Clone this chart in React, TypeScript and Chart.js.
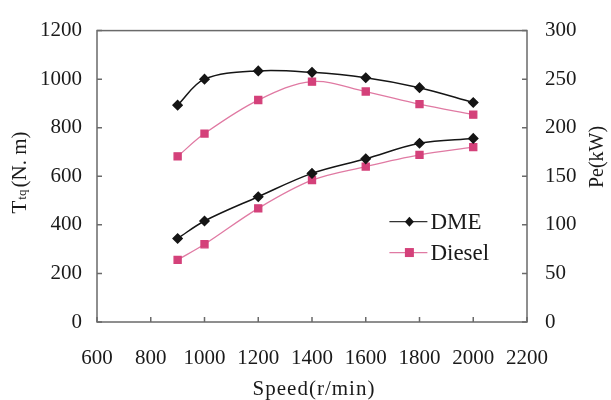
import React, { useEffect, useRef } from "react";
import { Chart, registerables } from "chart.js";

Chart.register(...registerables);

const speeds = [900, 1000, 1200, 1400, 1600, 1800, 2000];
const dmeTorque = [893, 1000, 1034, 1028, 1006, 965, 904];
const dieselTorque = [682, 776, 914, 990, 949, 897, 854];
const dmePower = [86, 104, 129, 153, 168, 184, 189];
const dieselPower = [64, 80, 117, 146, 160, 172, 180];

const xTicks = [600, 800, 1000, 1200, 1400, 1600, 1800, 2000, 2200];
const torqueTicks = [0, 200, 400, 600, 800, 1000, 1200];
const powerTicks = [0, 50, 100, 150, 200, 250, 300];

const legendLabels = ["DME", "Diesel"];
const DME_COLOR = "#151515";
const DIESEL_COLOR = "#d4417a";
const DIESEL_LINE = "#e07aa3";
const FONT = "'Liberation Serif', 'DejaVu Serif', serif";
const AXIS_COLOR = "#6a6a6a";
const TEXT_COLOR = "#1a1a1a";

const toPts = (ys: number[]) => speeds.map((x, i) => ({ x, y: ys[i] }));

const framePlugin = {
  id: "frame",
  afterDraw(chart: any) {
    const { ctx, chartArea: a, scales } = chart;
    ctx.save();
    ctx.strokeStyle = AXIS_COLOR;
    ctx.lineWidth = 1.5;
    ctx.strokeRect(a.left, a.top, a.right - a.left, a.bottom - a.top);
    ctx.beginPath();
    xTicks.forEach((v) => {
      const px = scales.x.getPixelForValue(v);
      ctx.moveTo(px, a.bottom);
      ctx.lineTo(px, a.bottom - 5);
    });
    torqueTicks.forEach((v) => {
      const py = scales.y.getPixelForValue(v);
      ctx.moveTo(a.left, py);
      ctx.lineTo(a.left + 5, py);
    });
    powerTicks.forEach((v) => {
      const py = scales.y1.getPixelForValue(v);
      ctx.moveTo(a.right, py);
      ctx.lineTo(a.right - 5, py);
    });
    ctx.stroke();

    // axis titles
    ctx.fillStyle = TEXT_COLOR;
    ctx.textBaseline = "middle";
    const big = `21px ${FONT}`;
    const small = `13px ${FONT}`;
    // left title: T_tq (N. m)
    ctx.save();
    ctx.translate(20, 173);
    ctx.rotate(-Math.PI / 2);
    ctx.font = big;
    const w1 = ctx.measureText("T").width;
    const w3 = ctx.measureText("(N. m)").width;
    ctx.font = small;
    const w2 = ctx.measureText("tq").width + 2;
    let sx = -(w1 + w2 + w3) / 2;
    ctx.font = big;
    ctx.fillText("T", sx, 0);
    sx += w1 + 1;
    ctx.font = small;
    ctx.fillText("tq", sx, 3);
    sx += w2;
    ctx.font = big;
    ctx.fillText("(N. m)", sx, 0);
    ctx.restore();

    // right title
    ctx.save();
    ctx.translate(598, 157);
    ctx.rotate(-Math.PI / 2);
    ctx.font = `20px ${FONT}`;
    ctx.textAlign = "center";
    ctx.fillText("Pe(kW)", 0, 0);
    ctx.restore();

    // x title
    ctx.font = `21px ${FONT}`;
    ctx.textAlign = "center";
    (ctx as any).letterSpacing = "1px";
    ctx.fillText("Speed(r/min)", (a.left + a.right) / 2 + 2, 389);
    (ctx as any).letterSpacing = "0px";

    // legend
    const lx = scales.x.getPixelForValue(1688);
    const rows = [
      { y: scales.y.getPixelForValue(413), color: DME_COLOR, line: "#333", diamond: true },
      { y: scales.y.getPixelForValue(286), color: DIESEL_COLOR, line: DIESEL_LINE, diamond: false },
    ];
    rows.forEach((row, i) => {
      ctx.strokeStyle = row.line;
      ctx.lineWidth = 1.2;
      ctx.beginPath();
      ctx.moveTo(lx, row.y);
      ctx.lineTo(lx + 38, row.y);
      ctx.stroke();
      ctx.fillStyle = row.color;
      const mx = lx + 20;
      ctx.beginPath();
      if (row.diamond) {
        ctx.moveTo(mx, row.y - 5);
        ctx.lineTo(mx + 4.5, row.y);
        ctx.lineTo(mx, row.y + 5);
        ctx.lineTo(mx - 4.5, row.y);
        ctx.closePath();
      } else {
        ctx.rect(mx - 4.5, row.y - 4.5, 9, 9);
      }
      ctx.fill();
      ctx.fillStyle = TEXT_COLOR;
      ctx.font = `23px ${FONT}`;
      ctx.textAlign = "left";
      ctx.fillText(legendLabels[i], lx + 41, row.y + 1);
    });
    ctx.restore();
  },
};

export default function App() {
  const ref = useRef<HTMLCanvasElement | null>(null);
  useEffect(() => {
    document.body.style.margin = "0";
    if (!ref.current) return;
    const tickFont = { family: FONT, size: 21 };
    const plain = (v: any) => String(v);
    const chart = new Chart(ref.current, {
      type: "line",
      data: {
        datasets: [
          {
            label: "DME",
            data: toPts(dmeTorque),
            yAxisID: "y",
            borderColor: DME_COLOR,
            backgroundColor: DME_COLOR,
            pointStyle: "rectRot",
            pointRadius: 4.5,
            borderWidth: 1.5,
            tension: 0.35,
          },
          {
            label: "Diesel",
            data: toPts(dieselTorque),
            yAxisID: "y",
            borderColor: DIESEL_LINE,
            backgroundColor: DIESEL_COLOR,
            pointBorderColor: DIESEL_COLOR,
            pointStyle: "rect",
            pointRadius: 5,
            borderWidth: 1.3,
            tension: 0.35,
          },
          {
            label: "DME power",
            data: toPts(dmePower),
            yAxisID: "y1",
            borderColor: DME_COLOR,
            backgroundColor: DME_COLOR,
            pointStyle: "rectRot",
            pointRadius: 4.5,
            borderWidth: 1.5,
            tension: 0.35,
          },
          {
            label: "Diesel power",
            data: toPts(dieselPower),
            yAxisID: "y1",
            borderColor: DIESEL_LINE,
            backgroundColor: DIESEL_COLOR,
            pointBorderColor: DIESEL_COLOR,
            pointStyle: "rect",
            pointRadius: 5,
            borderWidth: 1.3,
            tension: 0.35,
          },
        ],
      },
      options: {
        animation: false,
        responsive: false,
        maintainAspectRatio: false,
        layout: { padding: { top: 20, left: 0, right: 0, bottom: 0 } },
        plugins: { legend: { display: false }, tooltip: { enabled: false } },
        scales: {
          x: {
            type: "linear",
            min: 600,
            max: 2200,
            afterBuildTicks: (s: any) => {
              s.ticks = xTicks.map((v) => ({ value: v }));
            },
            afterFit: (s: any) => {
              s.height = 78;
            },
            grid: { display: false, drawTicks: false },
            border: { display: false },
            ticks: { font: tickFont, color: TEXT_COLOR, padding: 24, maxRotation: 0, autoSkip: false, callback: plain },
          },
          y: {
            position: "left",
            min: 0,
            max: 1200,
            afterBuildTicks: (s: any) => {
              s.ticks = torqueTicks.map((v) => ({ value: v }));
            },
            afterFit: (s: any) => {
              s.width = 97;
            },
            grid: { display: false, drawTicks: false },
            border: { display: false },
            ticks: { font: tickFont, color: TEXT_COLOR, padding: 15, callback: plain },
          },
          y1: {
            position: "right",
            min: 0,
            max: 300,
            afterBuildTicks: (s: any) => {
              s.ticks = powerTicks.map((v) => ({ value: v }));
            },
            afterFit: (s: any) => {
              s.width = 84;
            },
            grid: { display: false, drawTicks: false },
            border: { display: false },
            ticks: { font: tickFont, color: TEXT_COLOR, padding: 18, callback: plain },
          },
        },
      },
      plugins: [framePlugin],
    } as any);
    return () => chart.destroy();
  }, []);
  return (
    <div style={{ width: 611, height: 400, position: "relative", background: "#fff" }}>
      <canvas ref={ref} width={611} height={400} style={{ width: 611, height: 400 }} />
    </div>
  );
}
